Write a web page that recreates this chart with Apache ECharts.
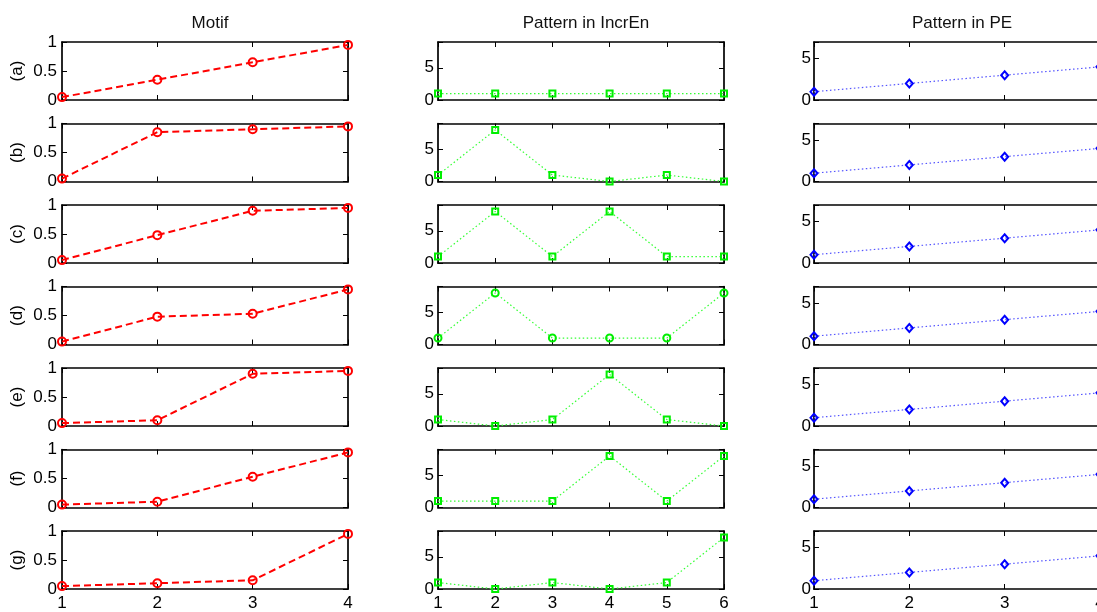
<!DOCTYPE html>
<html>
<head>
<meta charset="utf-8">
<script src="https://cdn.jsdelivr.net/npm/echarts@6/dist/echarts.min.js"></script>
<style>
html,body{margin:0;padding:0;background:#fff;}
#chart{width:1097px;height:612px;}
</style>
</head>
<body>
<div id="chart"></div>
<script>
// ---- data ----
const rowLabels = ['(a)', '(b)', '(c)', '(d)', '(e)', '(f)', '(g)'];
const columnTitles = ['Motif', 'Pattern in IncrEn', 'Pattern in PE'];
const motifX = [1, 2, 3, 4];
const incrEnX = [1, 2, 3, 4, 5, 6];
const peX = [1, 2, 3, 4];
const motifY = [
  [0.05, 0.35, 0.65, 0.95],
  [0.05, 0.85, 0.90, 0.95],
  [0.05, 0.48, 0.90, 0.95],
  [0.05, 0.48, 0.53, 0.95],
  [0.05, 0.10, 0.90, 0.95],
  [0.05, 0.10, 0.53, 0.95],
  [0.05, 0.10, 0.15, 0.95]
];
const incrEnY = [
  [1, 1, 1, 1, 1, 1],
  [1, 8, 1, 0, 1, 0],
  [1, 8, 1, 8, 1, 1],
  [1, 8, 1, 1, 1, 8],
  [1, 0, 1, 8, 1, 0],
  [1, 1, 1, 8, 1, 8],
  [1, 0, 1, 0, 1, 8]
];
const peY = [
  [1, 2, 3, 4],
  [1, 2, 3, 4],
  [1, 2, 3, 4],
  [1, 2, 3, 4],
  [1, 2, 3, 4],
  [1, 2, 3, 4],
  [1, 2, 3, 4]
];
const motifYTicks = [0, 0.5, 1];
const patternYTicks = [0, 5];

// ---- layout / style ----
const FONT = 'Liberation Sans, Arial, Helvetica, sans-serif';
const FS = 17;
const colLeft = [62, 438, 814];
const plotW = 286;
const rowTop0 = 42, rowStep = 81.5, plotH = 58;
const colXData = [motifX, incrEnX, peX];
const colYData = [motifY, incrEnY, peY];
const colYMax = [1, 9, 7];
const colYInterval = [0.5, 5, 5];
const colLabelMargin = [5, 4, 3];

const grids = [], xAxes = [], yAxes = [], series = [], titles = [];

columnTitles.forEach((t, c) => {
  titles.push({
    text: t,
    left: colLeft[c] + plotW / 2,
    top: 10,
    textAlign: 'center',
    textStyle: { fontFamily: FONT, fontSize: FS, fontWeight: 'normal', color: '#111' }
  });
});

const axisLine = { show: true, onZero: false, lineStyle: { color: '#000', width: 1.7 } };
const tick = { show: true, inside: true, length: 5, lineStyle: { color: '#000', width: 1 } };

let g = 0;
for (let r = 0; r < 7; r++) {
  for (let c = 0; c < 3; c++) {
    const xs = colXData[c];
    grids.push({
      left: colLeft[c], top: rowTop0 + r * rowStep, width: plotW, height: plotH,
      containLabel: false, outerBoundsMode: 'none'
    });
    const xBase = {
      type: 'value', gridIndex: g, min: xs[0], max: xs[xs.length - 1], interval: 1,
      axisLine, axisTick: tick, splitLine: { show: false }
    };
    xAxes.push(Object.assign({}, xBase, {
      position: 'bottom',
      axisLabel: { show: r === 6, margin: 6, fontFamily: FONT, fontSize: FS, color: '#000',
        hideOverlap: false }
    }));
    xAxes.push(Object.assign({}, xBase, { position: 'top', axisLabel: { show: false } }));
    const yBase = {
      type: 'value', gridIndex: g, min: 0, max: colYMax[c], interval: colYInterval[c],
      axisLine, axisTick: tick, splitLine: { show: false }
    };
    const ticks = c === 0 ? motifYTicks : patternYTicks;
    yAxes.push(Object.assign({}, yBase, {
      position: 'left',
      name: c === 0 ? rowLabels[r] : '',
      nameLocation: 'middle', nameRotate: 90, nameGap: 36,
      nameTextStyle: { fontFamily: FONT, fontSize: FS, color: '#000' },
      axisLabel: {
        show: true, margin: colLabelMargin[c], fontFamily: FONT, fontSize: FS, color: '#000',
        showMaxLabel: true,
        formatter: v => (ticks.indexOf(v) >= 0 ? String(v) : '')
      }
    }));
    // right-hand mirror axis (off-canvas for the last column)
    yAxes.push(Object.assign({}, yBase, { position: 'right', show: c !== 2, axisLabel: { show: false } }));

    const ys = colYData[c][r];
    const data = ys.map((y, i) => [xs[i], y]);
    let s;
    if (c === 0) {
      s = {
        color: '#ff0000',
        lineStyle: { color: '#ff0000', width: 2, type: [7, 4] },
        symbol: 'circle', symbolSize: 8,
        itemStyle: { color: 'transparent', borderColor: '#ff0000', borderWidth: 2 }
      };
    } else if (c === 1) {
      s = {
        color: '#00ff00',
        lineStyle: { color: '#33ff33', width: 1.2, type: [1.5, 2.5] },
        symbol: r === 3 ? 'circle' : 'rect', symbolSize: r === 3 ? 7 : 6,
        itemStyle: { color: 'transparent', borderColor: '#00ee00', borderWidth: 2 }
      };
    } else {
      s = {
        color: '#0000ff',
        lineStyle: { color: '#5555ff', width: 1.2, type: [1.5, 2.5] },
        symbol: 'diamond', symbolSize: [7, 8],
        itemStyle: { color: 'transparent', borderColor: '#0000ff', borderWidth: 2 }
      };
    }
    series.push(Object.assign({
      type: 'line', xAxisIndex: 2 * g, yAxisIndex: 2 * g, data,
      showSymbol: true, showAllSymbol: true, clip: false, animation: false, silent: true
    }, s));
    g++;
  }
}

const chart = echarts.init(document.getElementById('chart'), null, { renderer: 'canvas' });
chart.setOption({
  backgroundColor: '#fff',
  animation: false,
  title: titles,
  grid: grids,
  xAxis: xAxes,
  yAxis: yAxes,
  series
});
</script>
</body>
</html>
